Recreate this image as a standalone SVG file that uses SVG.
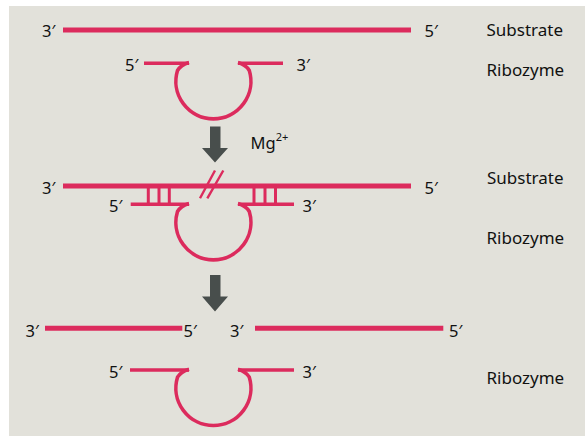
<svg xmlns="http://www.w3.org/2000/svg" width="585" height="436" viewBox="0 0 585 436">
<defs>
<style>
.bg{fill:#e2e1da}
.sub{stroke:#dc2b5d;stroke-width:5;fill:none}
.rib{stroke:#dc2b5d;stroke-width:3.6;fill:none;stroke-linecap:butt}
.rung{stroke:#dc2b5d;stroke-width:3;fill:none}
.cut{stroke:#dc2b5d;stroke-width:2.4;fill:none}
.arr{fill:#484e4c}
text{font-family:"Noto Sans","Open Sans","DejaVu Sans",sans-serif;fill:#111}
.p{font-size:16.5px}
.n{font-size:17px}
</style>
</defs>
<rect class="bg" x="9" y="6" width="576" height="430"/>

<g id="connectors">
<path id="arrow1" class="arr" d="M210,126.5 H220.5 V148 H228 L215,162.5 L202,148 H210 Z"/>
<path id="arrow2" class="arr" d="M210,275 H220.5 V296.5 H228 L215,311.5 L202,296.5 H210 Z"/>
</g>

<g id="mg">
<text x="250.5" y="149" style="font-size:16.5px">Mg<tspan dy="-8" style="font-size:11px">2+</tspan></text>
</g>

<g id="substrate1">
<line class="sub" x1="63" y1="30" x2="411" y2="30"/>
<text class="p" x="42" y="36.5">3′</text>
<text class="p" x="424.5" y="36.5">5′</text>
<text class="n" x="486.5" y="36">Substrate</text>
</g>

<g id="ribozyme1">
<path class="rib" d="M144,63.3 H189 M238,63.3 H283"/>
<path class="rib" d="M189,62.5 C184,64 179.5,67 177.5,70.5 A37.5,37.5 0 1 0 249.3,70.5 C247.3,67 243,64 238,62.5"/>
<text class="p" x="125" y="70.5">5′</text>
<text class="p" x="296.5" y="70.5">3′</text>
<text class="n" x="486.5" y="76">Ribozyme</text>
</g>

<g id="complex">
<line class="sub" x1="63" y1="186" x2="411" y2="186"/>
<path class="rung" d="M148.3,186 V204 M159,186 V204 M169.3,186 V204 M254,186 V204 M265,186 V204 M275.5,186 V204"/>
<path class="rib" d="M130.7,204.3 H189 M238,204.3 H294"/>
<path class="rib" d="M189,203.5 C184,205 179.5,208 177.5,211.5 A37.5,37.5 0 1 0 249.3,211.5 C247.3,208 243,205 238,203.5"/>
<path class="cut" d="M200,198.3 L215,170.5 M207.3,198.3 L223.3,170.5"/>
<text class="p" x="42" y="194">3′</text>
<text class="p" x="424.5" y="194">5′</text>
<text class="p" x="109" y="212.3">5′</text>
<text class="p" x="302.5" y="211.7">3′</text>
<text class="n" x="487" y="184">Substrate</text>
<text class="n" x="486.5" y="244">Ribozyme</text>
</g>

<g id="products">
<line class="sub" x1="45" y1="328.3" x2="182.3" y2="328.3"/>
<line class="sub" x1="255" y1="328.3" x2="443.3" y2="328.3"/>
<text class="p" x="25.5" y="336.7">3′</text>
<text class="p" x="183.5" y="336.7">5′</text>
<text class="p" x="230" y="336.7">3′</text>
<text class="p" x="449" y="336.7">5′</text>
</g>

<g id="ribozyme3">
<path class="rib" d="M130,370 H189 M238,370 H294"/>
<path class="rib" d="M189,369.2 C184,370.7 179.5,373.7 177.5,377.2 A37.5,37.5 0 1 0 249.3,377.2 C247.3,373.7 243,370.7 238,369.2"/>
<text class="p" x="109" y="378">5′</text>
<text class="p" x="302.5" y="378.3">3′</text>
<text class="n" x="486.5" y="384">Ribozyme</text>
</g>
</svg>
